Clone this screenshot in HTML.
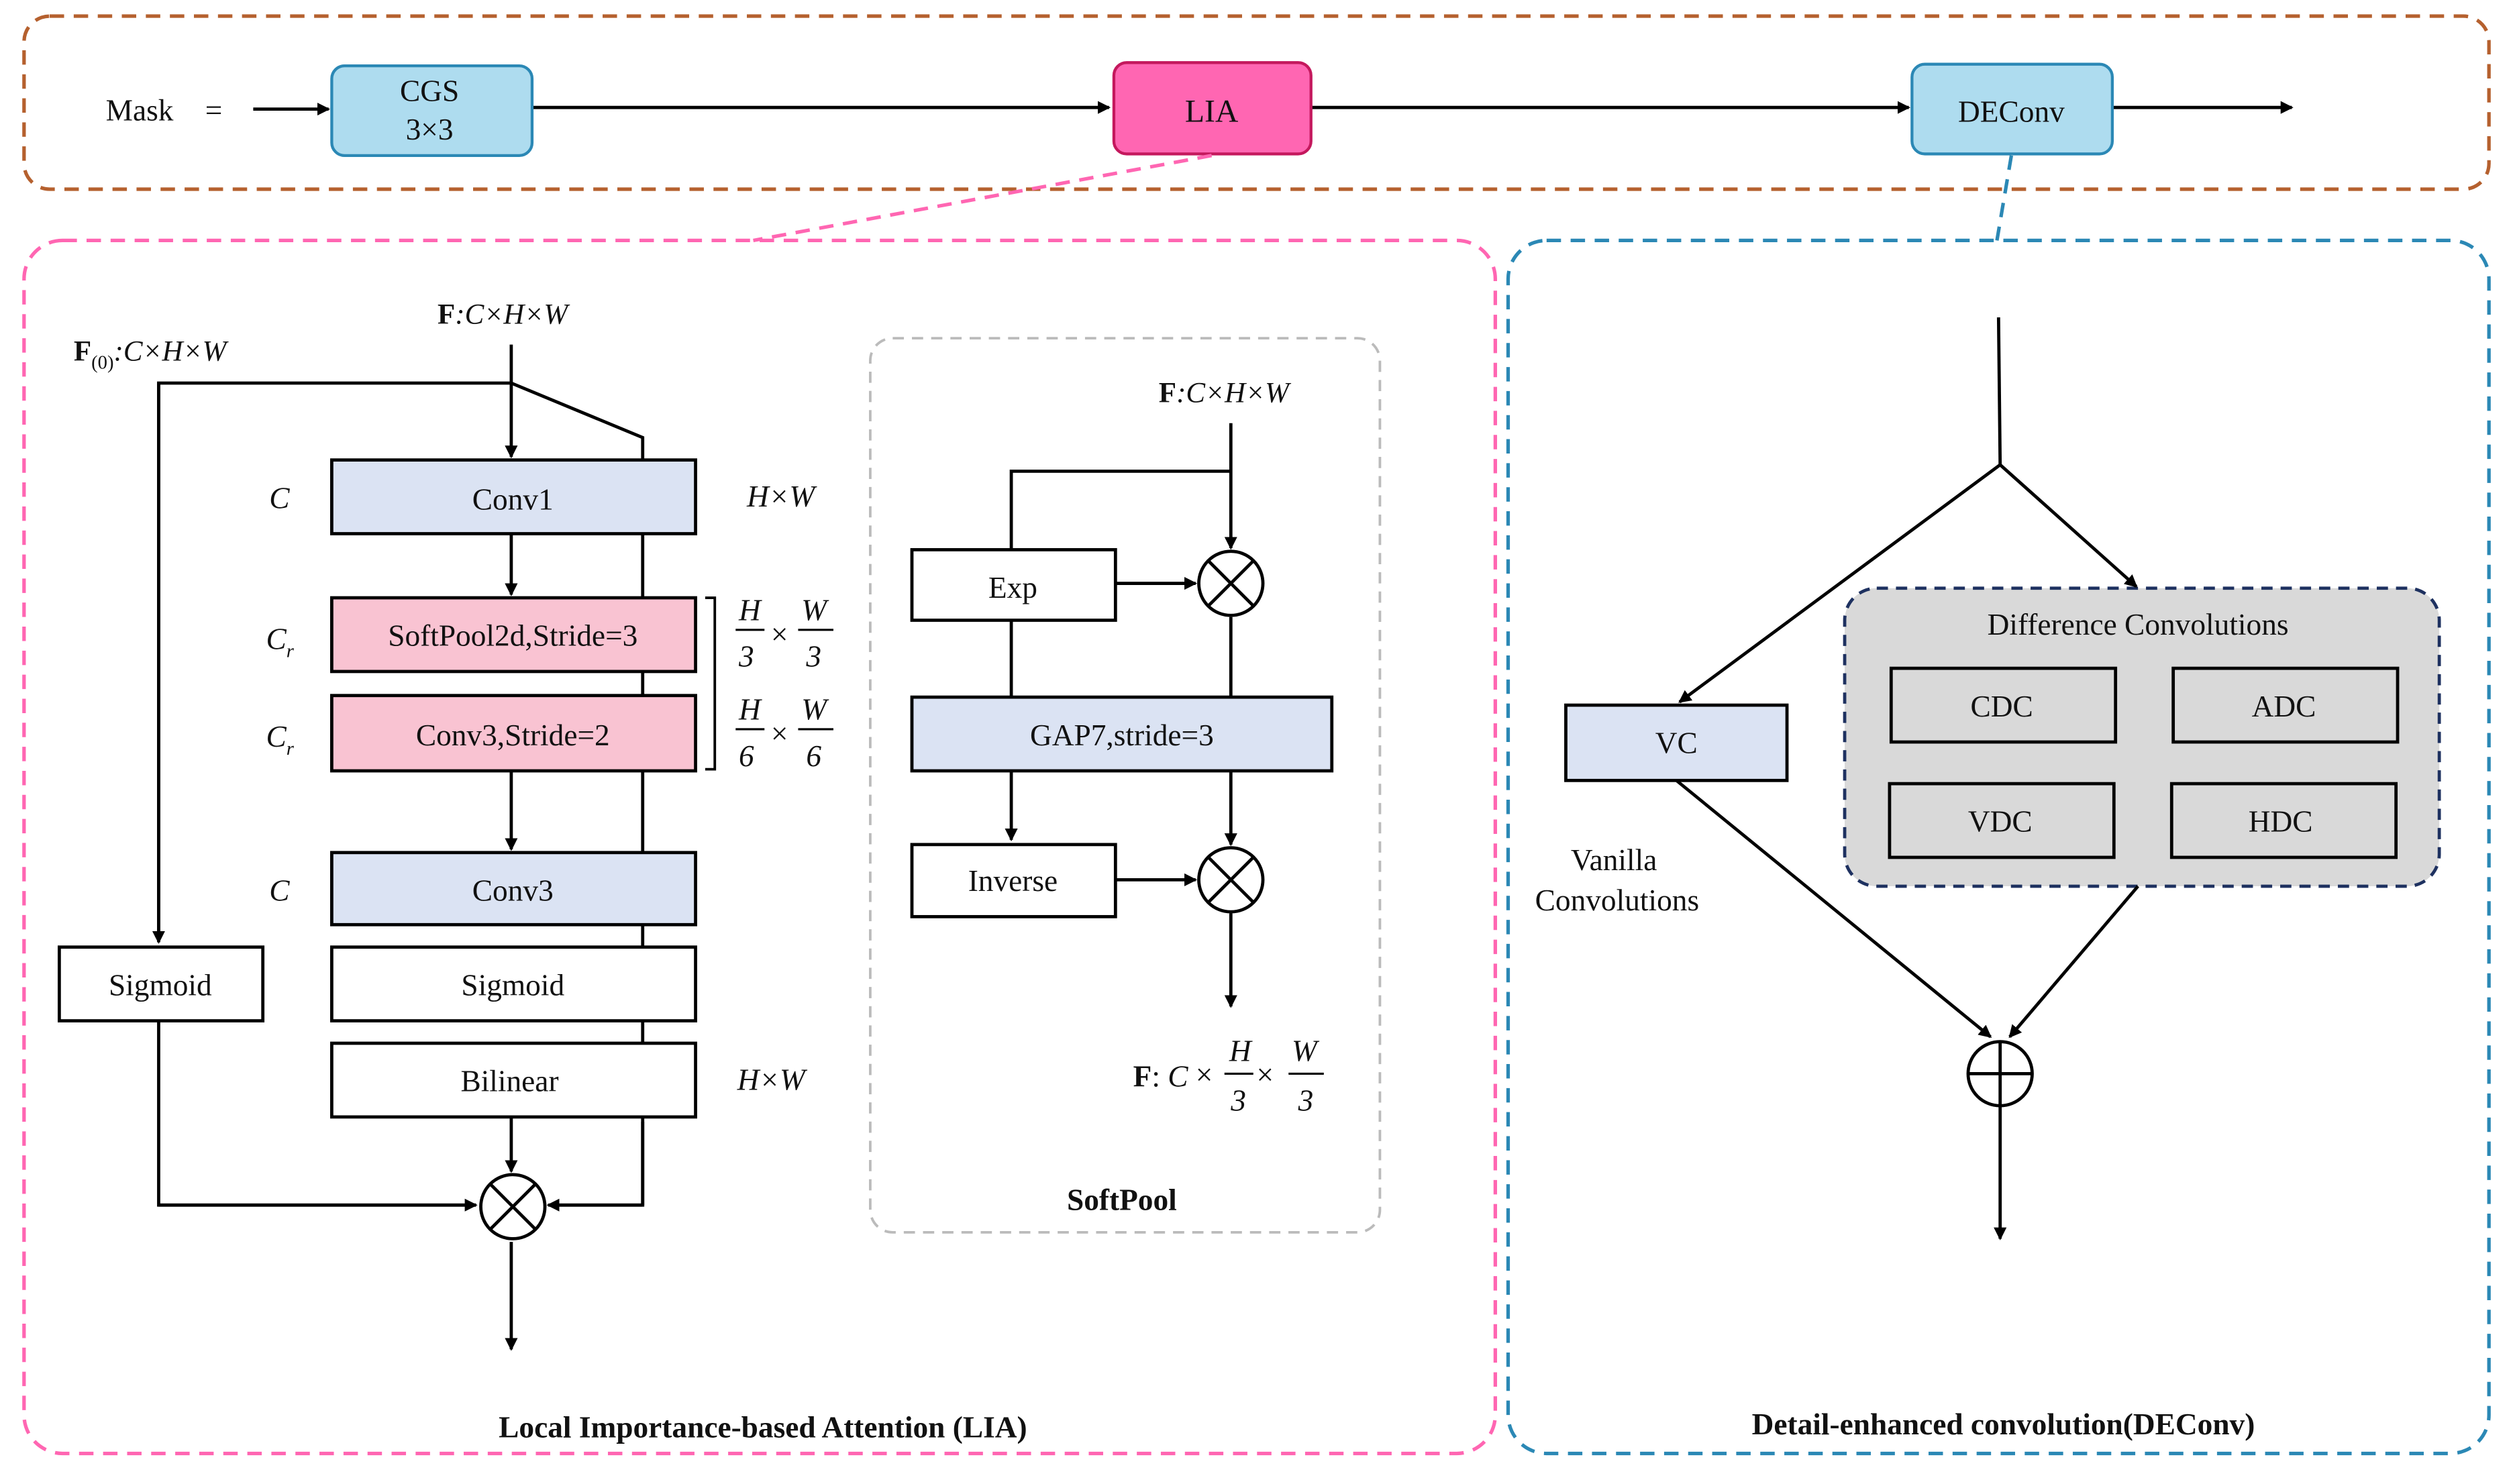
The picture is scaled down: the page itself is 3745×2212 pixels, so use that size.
<!DOCTYPE html>
<html><head><meta charset="utf-8"><style>
html,body{margin:0;padding:0;background:#fff}
svg{display:block}
text{font-family:"Liberation Serif",serif;fill:#111}
</style></head><body>
<svg width="3745" height="2212" viewBox="0 0 1568 926" xmlns="http://www.w3.org/2000/svg">
<defs>
<marker id="a" markerWidth="8" markerHeight="8" refX="7" refY="4" orient="auto" markerUnits="userSpaceOnUse"><path d="M0,0 L8,4 L0,8 z" fill="#000"/></marker>
</defs>
<rect width="1568" height="926" fill="#fff"/>
<!-- top container -->
<rect x="15" y="10" width="1538" height="108" rx="16" fill="none" stroke="#b5602e" stroke-width="2.2" stroke-dasharray="9,6"/>
<text x="66" y="75" font-size="19">Mask</text><text x="128" y="75" font-size="19">=</text>
<g stroke="#000" stroke-width="2" fill="none">
<line x1="158" y1="68" x2="205" y2="68" marker-end="url(#a)"/>
<line x1="332" y1="67" x2="692" y2="67" marker-end="url(#a)"/>
<line x1="818" y1="67" x2="1191" y2="67" marker-end="url(#a)"/>
<line x1="1318" y1="67" x2="1430" y2="67" marker-end="url(#a)"/>
</g>
<rect x="207" y="41" width="125" height="56" rx="8" fill="#aedcef" stroke="#2b88b5" stroke-width="1.8"/>
<text x="268" y="63" font-size="19" text-anchor="middle">CGS</text><text x="268" y="87" font-size="19" text-anchor="middle">3×3</text>
<rect x="695" y="39" width="123" height="57" rx="8" fill="#ff66b2" stroke="#c4185d" stroke-width="1.8"/>
<text x="756" y="76" font-size="20" text-anchor="middle">LIA</text>
<rect x="1193" y="40" width="125" height="56" rx="8" fill="#aedcef" stroke="#2b88b5" stroke-width="1.8"/>
<text x="1255" y="76" font-size="19" text-anchor="middle">DEConv</text>
<line x1="756" y1="97" x2="470" y2="150" stroke="#ff66b2" stroke-width="2.2" stroke-dasharray="9,6"/>
<line x1="1255" y1="97" x2="1246" y2="150" stroke="#2b88b5" stroke-width="2.2" stroke-dasharray="9,6"/>
<!-- LIA container -->
<rect x="15" y="150" width="918" height="757" rx="24" fill="none" stroke="#ff66b2" stroke-width="2.2" stroke-dasharray="9,6"/>
<rect x="941" y="150" width="612" height="757" rx="24" fill="none" stroke="#2b88b5" stroke-width="2.2" stroke-dasharray="9,6"/>
<rect x="543" y="211" width="318" height="558" rx="14" fill="none" stroke="#bbb" stroke-width="1.6" stroke-dasharray="7,5"/>
<!-- LIA left -->
<text x="273" y="202" font-size="18"><tspan font-weight="bold" font-style="normal">F</tspan><tspan font-style="italic">:C×H×W</tspan></text>
<text x="46" y="225" font-size="18"><tspan font-weight="bold">F</tspan><tspan font-size="12" dy="5">(0)</tspan><tspan dy="-5" font-style="italic">:C×H×W</tspan></text>
<g stroke="#000" stroke-width="2" fill="none">
<line x1="319" y1="215" x2="319" y2="285" marker-end="url(#a)"/>
<polyline points="99,587 99,239 319,239 401,273 401,752 343,752" />
<line x1="99" y1="239" x2="99" y2="588" marker-end="url(#a)"/>
<line x1="401" y1="700" x2="401" y2="752"/>
<line x1="401" y1="752" x2="342" y2="752" marker-end="url(#a)"/>
<line x1="319" y1="333" x2="319" y2="371" marker-end="url(#a)"/>
<line x1="319" y1="481" x2="319" y2="530" marker-end="url(#a)"/>
<line x1="319" y1="697" x2="319" y2="731" marker-end="url(#a)"/>
<polyline points="99,637 99,752 297,752" />
<line x1="99" y1="752" x2="297" y2="752" marker-end="url(#a)"/>
<line x1="319" y1="775" x2="319" y2="842" marker-end="url(#a)"/>
<polyline points="440,373 446,373 446,480 440,480" stroke-width="1.6"/>
</g>
<rect x="207" y="287" width="227" height="46" fill="#dbe3f3" stroke="#000" stroke-width="2"/>
<text x="320" y="318" font-size="19" text-anchor="middle">Conv1</text>
<rect x="207" y="373" width="227" height="46" fill="#f9c3d2" stroke="#000" stroke-width="2"/>
<text x="320" y="403" font-size="19" text-anchor="middle">SoftPool2d,Stride=3</text>
<rect x="207" y="434" width="227" height="47" fill="#f9c3d2" stroke="#000" stroke-width="2"/>
<text x="320" y="465" font-size="19" text-anchor="middle">Conv3,Stride=2</text>
<rect x="207" y="532" width="227" height="45" fill="#dbe3f3" stroke="#000" stroke-width="2"/>
<text x="320" y="562" font-size="19" text-anchor="middle">Conv3</text>
<rect x="207" y="591" width="227" height="46" fill="#fff" stroke="#000" stroke-width="2"/>
<text x="320" y="621" font-size="19" text-anchor="middle">Sigmoid</text>
<rect x="207" y="651" width="227" height="46" fill="#fff" stroke="#000" stroke-width="2"/>
<text x="318" y="681" font-size="19" text-anchor="middle">Bilinear</text>
<rect x="37" y="591" width="127" height="46" fill="#fff" stroke="#000" stroke-width="2"/>
<text x="100" y="621" font-size="19" text-anchor="middle">Sigmoid</text>
<circle cx="320" cy="753" r="20" fill="#fff" stroke="#000" stroke-width="2"/>
<path d="M306,739 L334,767 M334,739 L306,767" stroke="#000" stroke-width="2"/>
<g font-style="italic" font-size="19">
<text x="168" y="317">C</text><text x="466" y="316">H×W</text>
<text x="166" y="405">C<tspan font-size="12" dy="5">r</tspan></text>
<text x="166" y="466">C<tspan font-size="12" dy="5">r</tspan></text>
<text x="168" y="562">C</text><text x="460" y="680">H×W</text>
<text x="461" y="387">H</text><text x="461" y="416">3</text><text x="500" y="387">W</text><text x="503" y="416">3</text>
<text x="461" y="449">H</text><text x="461" y="478">6</text><text x="500" y="449">W</text><text x="503" y="478">6</text>
</g>
<g stroke="#000" stroke-width="1.3"><line x1="459" y1="393" x2="477" y2="393"/><line x1="498" y1="393" x2="520" y2="393"/><line x1="459" y1="455" x2="477" y2="455"/><line x1="498" y1="455" x2="520" y2="455"/></g>
<text x="481" y="402" font-size="19">×</text><text x="481" y="464" font-size="19">×</text>
<text x="476" y="897" font-size="19" font-weight="bold" text-anchor="middle">Local Importance-based Attention (LIA)</text>
<!-- SoftPool -->
<text x="723" y="251" font-size="18"><tspan font-weight="bold">F</tspan><tspan font-style="italic">:C×H×W</tspan></text>
<g stroke="#000" stroke-width="2" fill="none">
<line x1="768" y1="264" x2="768" y2="342" marker-end="url(#a)"/>
<polyline points="768,294 631,294 631,343"/>
<line x1="631" y1="387" x2="631" y2="435"/>
<line x1="768" y1="385" x2="768" y2="435"/>
<line x1="696" y1="364" x2="746" y2="364" marker-end="url(#a)"/>
<line x1="631" y1="481" x2="631" y2="524" marker-end="url(#a)"/>
<line x1="768" y1="481" x2="768" y2="527" marker-end="url(#a)"/>
<line x1="696" y1="549" x2="746" y2="549" marker-end="url(#a)"/>
<line x1="768" y1="570" x2="768" y2="628" marker-end="url(#a)"/>
</g>
<rect x="569" y="343" width="127" height="44" fill="#fff" stroke="#000" stroke-width="2"/>
<text x="632" y="373" font-size="19" text-anchor="middle">Exp</text>
<rect x="569" y="435" width="262" height="46" fill="#dbe3f3" stroke="#000" stroke-width="2"/>
<text x="700" y="465" font-size="19" text-anchor="middle">GAP7,stride=3</text>
<rect x="569" y="527" width="127" height="45" fill="#fff" stroke="#000" stroke-width="2"/>
<text x="632" y="556" font-size="19" text-anchor="middle">Inverse</text>
<circle cx="768" cy="364" r="20" fill="#fff" stroke="#000" stroke-width="2"/>
<path d="M754,350 L782,378 M782,350 L754,378" stroke="#000" stroke-width="2"/>
<circle cx="768" cy="549" r="20" fill="#fff" stroke="#000" stroke-width="2"/>
<path d="M754,535 L782,563 M782,535 L754,563" stroke="#000" stroke-width="2"/>
<text x="707" y="678" font-size="19"><tspan font-weight="bold">F</tspan>: <tspan font-style="italic">C</tspan></text>
<text x="746" y="677" font-size="19">×</text><text x="784" y="677" font-size="19">×</text>
<g font-style="italic" font-size="19"><text x="767" y="662">H</text><text x="768" y="693">3</text><text x="806" y="662">W</text><text x="810" y="693">3</text></g>
<g stroke="#000" stroke-width="1.3"><line x1="764" y1="670" x2="782" y2="670"/><line x1="804" y1="670" x2="826" y2="670"/></g>
<text x="700" y="755" font-size="19" font-weight="bold" text-anchor="middle">SoftPool</text>
<!-- DEConv -->
<rect x="1151" y="367" width="371" height="186" rx="20" fill="#d9d9d9" stroke="#1e3160" stroke-width="2" stroke-dasharray="7,5"/>
<text x="1334" y="396" font-size="19" text-anchor="middle">Difference Convolutions</text>
<g fill="#d9d9d9" stroke="#000" stroke-width="2">
<rect x="1180" y="417" width="140" height="46"/><rect x="1356" y="417" width="140" height="46"/>
<rect x="1179" y="489" width="140" height="46"/><rect x="1355" y="489" width="140" height="46"/>
</g>
<g font-size="19" text-anchor="middle">
<text x="1249" y="447">CDC</text><text x="1425" y="447">ADC</text><text x="1248" y="519">VDC</text><text x="1423" y="519">HDC</text>
</g>
<g stroke="#000" stroke-width="2" fill="none">
<polyline points="1247,198 1248,290"/>
<line x1="1248" y1="290" x2="1048" y2="438" marker-end="url(#a)"/>
<line x1="1248" y1="290" x2="1333" y2="366" marker-end="url(#a)"/>
<line x1="1046" y1="487" x2="1242" y2="647" marker-end="url(#a)"/>
<line x1="1334" y1="553" x2="1254" y2="647" marker-end="url(#a)"/>
<line x1="1248" y1="690" x2="1248" y2="773" marker-end="url(#a)"/>
</g>
<rect x="977" y="440" width="138" height="47" fill="#dbe3f3" stroke="#000" stroke-width="2"/>
<text x="1046" y="470" font-size="19" text-anchor="middle">VC</text>
<text x="1007" y="543" font-size="19" text-anchor="middle">Vanilla</text>
<text x="1009" y="568" font-size="19" text-anchor="middle">Convolutions</text>
<circle cx="1248" cy="670" r="20" fill="#fff" stroke="#000" stroke-width="2"/>
<path d="M1228,670 H1268 M1248,650 V690" stroke="#000" stroke-width="2"/>
<text x="1250" y="895" font-size="19" font-weight="bold" text-anchor="middle">Detail-enhanced convolution(DEConv)</text>
</svg>
</body></html>
